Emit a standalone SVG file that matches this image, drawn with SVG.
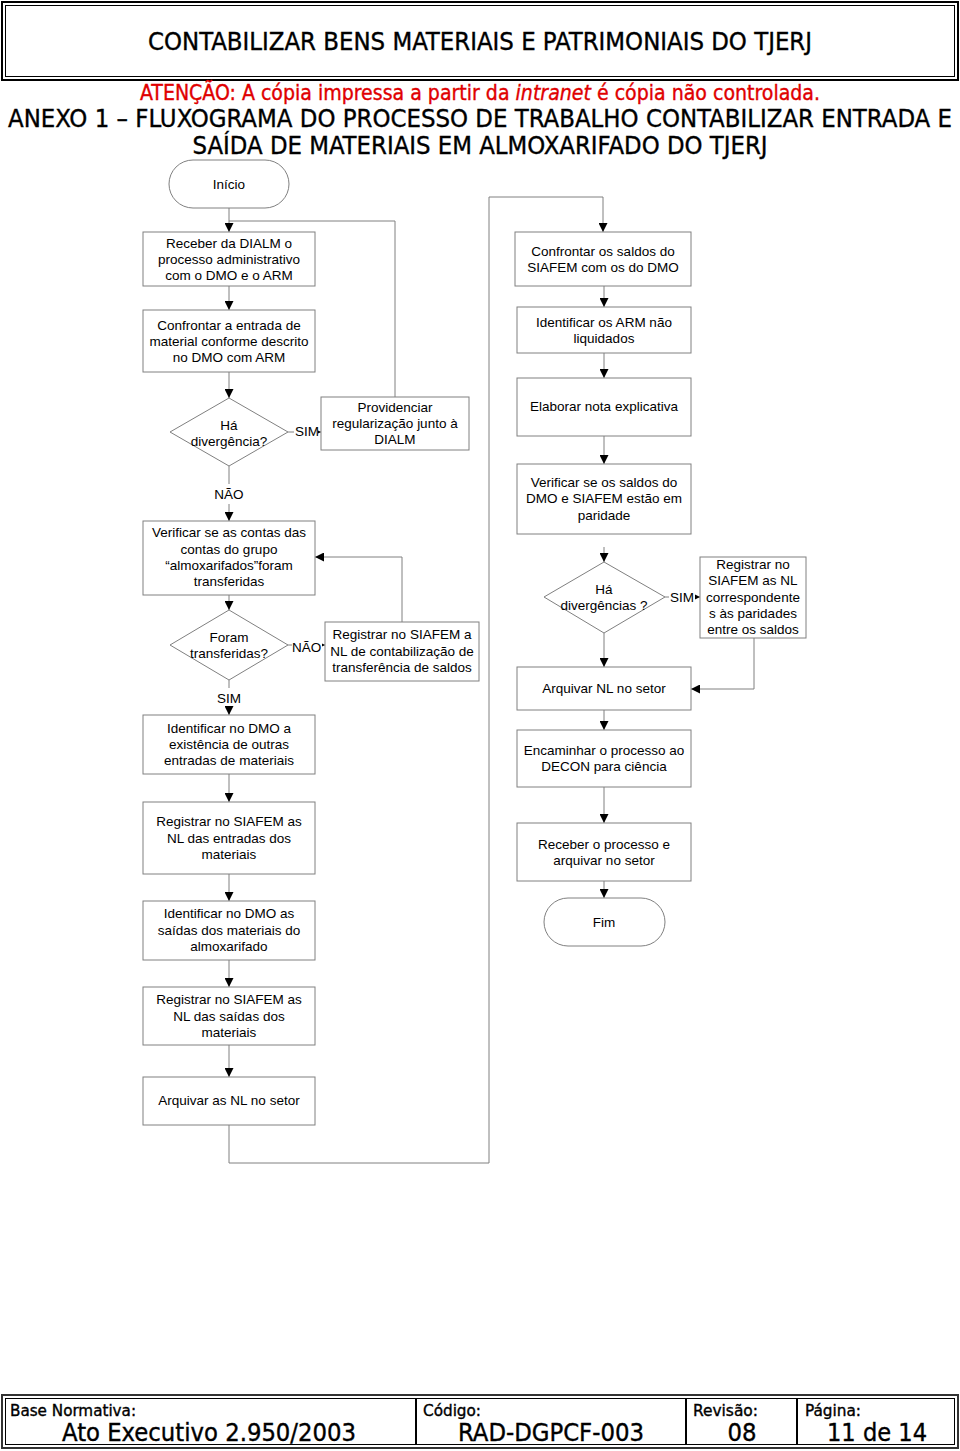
<svg xmlns="http://www.w3.org/2000/svg" width="960" height="1451" viewBox="0 0 960 1451">
<style>
.hd{font-family:"DejaVu Sans Condensed","DejaVu Sans",sans-serif;fill:#000;stroke:#000;stroke-width:0.35}
.t{font-family:"Liberation Sans",Arial,sans-serif;font-size:13.5px;text-anchor:middle;fill:#000}
.b{fill:#fff;stroke:#808080;stroke-width:1}
.c{fill:none;stroke:#808080;stroke-width:1}
.lb{font-family:"Liberation Sans",Arial,sans-serif;font-size:13.5px;fill:#000}
</style>
<defs>
<marker id="ah" viewBox="0 0 10 10" refX="10" refY="5" markerWidth="9" markerHeight="9" markerUnits="userSpaceOnUse" orient="auto">
<path d="M0,0 L10,5 L0,10 z" fill="#000"/>
</marker>
</defs>
<rect width="960" height="1451" fill="#fff"/>
<!-- header -->
<g id="header">
<rect x="2" y="2" width="956" height="78" fill="none" stroke="#000" stroke-width="2"/>
<rect x="5.5" y="5.5" width="949" height="71" fill="none" stroke="#000" stroke-width="1"/>
<text class="hd" x="480" y="50" font-size="24" text-anchor="middle" textLength="664" lengthAdjust="spacingAndGlyphs">CONTABILIZAR BENS MATERIAIS E PATRIMONIAIS DO TJERJ</text>
<text class="hd" x="480" y="100" font-size="21" text-anchor="middle" style="fill:#e00000;stroke:#e00000" textLength="680" lengthAdjust="spacingAndGlyphs">ATENÇÃO: A cópia impressa a partir da <tspan font-style="italic">intranet</tspan> é cópia não controlada.</text>
<text class="hd" x="480" y="127" font-size="25" text-anchor="middle" textLength="944" lengthAdjust="spacingAndGlyphs">ANEXO 1 – FLUXOGRAMA DO PROCESSO DE TRABALHO CONTABILIZAR ENTRADA E</text>
<text class="hd" x="480" y="154" font-size="25" text-anchor="middle" textLength="575" lengthAdjust="spacingAndGlyphs">SAÍDA DE MATERIAIS EM ALMOXARIFADO DO TJERJ</text>
</g>
<!-- connectors -->
<g id="connectors">
<path class="c" d="M229,208 V232" marker-end="url(#ah)"/>
<path class="c" d="M395,397 V221 H229"/>
<path class="c" d="M229,286 V310" marker-end="url(#ah)"/>
<path class="c" d="M229,372 V398" marker-end="url(#ah)"/>
<path class="c" d="M288,432 H321" marker-end="url(#ah)"/>
<path class="c" d="M229,466 V484"/>
<path class="c" d="M229,504 V521" marker-end="url(#ah)"/>
<path class="c" d="M229,595 V610" marker-end="url(#ah)"/>
<path class="c" d="M288,645 H325" marker-end="url(#ah)"/>
<path class="c" d="M402,622 V557 H315" marker-end="url(#ah)"/>
<path class="c" d="M229,680 V688"/>
<path class="c" d="M229,706 V715" marker-end="url(#ah)"/>
<path class="c" d="M229,774 V802" marker-end="url(#ah)"/>
<path class="c" d="M229,874 V901" marker-end="url(#ah)"/>
<path class="c" d="M229,960 V987" marker-end="url(#ah)"/>
<path class="c" d="M229,1045 V1077" marker-end="url(#ah)"/>
<path class="c" d="M229,1125 V1163 H489 V197 H603 V232" marker-end="url(#ah)"/>
<path class="c" d="M604,286 V307" marker-end="url(#ah)"/>
<path class="c" d="M604,353 V378" marker-end="url(#ah)"/>
<path class="c" d="M604,436 V464" marker-end="url(#ah)"/>
<path class="c" d="M604,547 V562" marker-end="url(#ah)"/>
<path class="c" d="M665,597 H700" marker-end="url(#ah)"/>
<path class="c" d="M754,638 V689 H691" marker-end="url(#ah)"/>
<path class="c" d="M604,633 V667" marker-end="url(#ah)"/>
<path class="c" d="M604,710 V730" marker-end="url(#ah)"/>
<path class="c" d="M604,787 V823" marker-end="url(#ah)"/>
<path class="c" d="M604,881 V898" marker-end="url(#ah)"/>
<rect x="294" y="424" width="24" height="14" fill="#fff"/>
<text class="lb" x="295" y="436">SIM</text>
<rect x="214" y="486" width="30" height="16" fill="#fff"/>
<text class="t" x="229" y="499">NÃO</text>
<rect x="292" y="639" width="30" height="14" fill="#fff"/>
<text class="lb" x="292" y="652">NÃO</text>
<rect x="216" y="690" width="26" height="15" fill="#fff"/>
<text class="t" x="229" y="703">SIM</text>
<rect x="669" y="590" width="26" height="14" fill="#fff"/>
<text class="lb" x="670" y="602">SIM</text>
</g>
<!-- left column -->
<g id="inicio"><rect class="b" x="169" y="160" width="120" height="48" rx="24"/><text class="t" x="229" y="189">Início</text></g>
<g id="n1"><rect class="b" x="143" y="232" width="172" height="54"/><text class="t" x="229" y="248">Receber da DIALM o</text><text class="t" x="229" y="264">processo administrativo</text><text class="t" x="229" y="280">com o DMO e o ARM</text></g>
<g id="n2"><rect class="b" x="143" y="310" width="172" height="62"/><text class="t" x="229" y="330">Confrontar a entrada de</text><text class="t" x="229" y="346">material conforme descrito</text><text class="t" x="229" y="362">no DMO com ARM</text></g>
<g id="d1"><polygon class="b" points="229,398 288,432 229,466 170,432"/><text class="t" x="229" y="430">Há</text><text class="t" x="229" y="446">divergência?</text></g>
<g id="n3"><rect class="b" x="321" y="397" width="148" height="53"/><text class="t" x="395" y="412">Providenciar</text><text class="t" x="395" y="428">regularização junto à</text><text class="t" x="395" y="444">DIALM</text></g>
<g id="n4"><rect class="b" x="143" y="521" width="172" height="74"/><text class="t" x="229" y="537">Verificar se as contas das</text><text class="t" x="229" y="554">contas do grupo</text><text class="t" x="229" y="570">“almoxarifados”foram</text><text class="t" x="229" y="586">transferidas</text></g>
<g id="d2"><polygon class="b" points="229,610 288,645 229,680 170,645"/><text class="t" x="229" y="642">Foram</text><text class="t" x="229" y="658">transferidas?</text></g>
<g id="n5"><rect class="b" x="325" y="622" width="154" height="59"/><text class="t" x="402" y="639">Registrar no SIAFEM a</text><text class="t" x="402" y="656">NL de contabilização de</text><text class="t" x="402" y="672">transferência de saldos</text></g>
<g id="n6"><rect class="b" x="143" y="715" width="172" height="59"/><text class="t" x="229" y="733">Identificar no DMO a</text><text class="t" x="229" y="749">existência de outras</text><text class="t" x="229" y="765">entradas de materiais</text></g>
<g id="n7"><rect class="b" x="143" y="802" width="172" height="72"/><text class="t" x="229" y="826">Registrar no SIAFEM as</text><text class="t" x="229" y="843">NL das entradas dos</text><text class="t" x="229" y="859">materiais</text></g>
<g id="n8"><rect class="b" x="143" y="901" width="172" height="59"/><text class="t" x="229" y="918">Identificar no DMO as</text><text class="t" x="229" y="935">saídas dos materiais do</text><text class="t" x="229" y="951">almoxarifado</text></g>
<g id="n9"><rect class="b" x="143" y="987" width="172" height="58"/><text class="t" x="229" y="1004">Registrar no SIAFEM as</text><text class="t" x="229" y="1021">NL das saídas dos</text><text class="t" x="229" y="1037">materiais</text></g>
<g id="n10"><rect class="b" x="143" y="1077" width="172" height="48"/><text class="t" x="229" y="1105">Arquivar as NL no setor</text></g>
<!-- right column -->
<g id="r1"><rect class="b" x="515" y="232" width="176" height="54"/><text class="t" x="603" y="256">Confrontar os saldos do</text><text class="t" x="603" y="272">SIAFEM com os do DMO</text></g>
<g id="r2"><rect class="b" x="517" y="307" width="174" height="46"/><text class="t" x="604" y="327">Identificar os ARM não</text><text class="t" x="604" y="343">liquidados</text></g>
<g id="r3"><rect class="b" x="517" y="378" width="174" height="58"/><text class="t" x="604" y="411">Elaborar nota explicativa</text></g>
<g id="r4"><rect class="b" x="517" y="464" width="174" height="70"/><text class="t" x="604" y="487">Verificar se os saldos   do</text><text class="t" x="604" y="503">DMO e SIAFEM estão em</text><text class="t" x="604" y="520">paridade</text></g>
<g id="d3"><polygon class="b" points="604,562 665,597 604,633 544,597"/><text class="t" x="604" y="594">Há</text><text class="t" x="604" y="610">divergências ?</text></g>
<g id="r5"><rect class="b" x="700" y="557" width="106" height="81"/><text class="t" x="753" y="569">Registrar no</text><text class="t" x="753" y="585">SIAFEM as NL</text><text class="t" x="753" y="602">correspondente</text><text class="t" x="753" y="618">s às paridades</text><text class="t" x="753" y="634">entre os saldos</text></g>
<g id="r6"><rect class="b" x="517" y="667" width="174" height="43"/><text class="t" x="604" y="693">Arquivar NL no setor</text></g>
<g id="r7"><rect class="b" x="517" y="730" width="174" height="57"/><text class="t" x="604" y="755">Encaminhar o processo ao</text><text class="t" x="604" y="771">DECON para ciência</text></g>
<g id="r8"><rect class="b" x="517" y="823" width="174" height="58"/><text class="t" x="604" y="849">Receber o processo e</text><text class="t" x="604" y="865">arquivar no setor</text></g>
<g id="fim"><rect class="b" x="544" y="898" width="121" height="48" rx="24"/><text class="t" x="604" y="927">Fim</text></g>
<!-- footer -->
<g id="footer">
<rect x="2" y="1395" width="956" height="53" fill="none" stroke="#333" stroke-width="2"/>
<rect x="5.5" y="1398.5" width="949" height="46" fill="none" stroke="#000" stroke-width="1"/>
<line x1="416" y1="1398" x2="416" y2="1445" stroke="#000" stroke-width="2"/>
<line x1="686" y1="1398" x2="686" y2="1445" stroke="#000" stroke-width="2"/>
<line x1="797" y1="1398" x2="797" y2="1445" stroke="#000" stroke-width="2"/>
<text class="hd" x="10" y="1416" font-size="16" textLength="126" lengthAdjust="spacingAndGlyphs">Base Normativa:</text>
<text class="hd" x="209" y="1441" font-size="24" text-anchor="middle" textLength="294" lengthAdjust="spacingAndGlyphs">Ato Executivo 2.950/2003</text>
<text class="hd" x="423" y="1416" font-size="16" textLength="58" lengthAdjust="spacingAndGlyphs">Código:</text>
<text class="hd" x="551" y="1441" font-size="24" text-anchor="middle" textLength="186" lengthAdjust="spacingAndGlyphs">RAD-DGPCF-003</text>
<text class="hd" x="693" y="1416" font-size="16" textLength="65" lengthAdjust="spacingAndGlyphs">Revisão:</text>
<text class="hd" x="742" y="1441" font-size="24" text-anchor="middle" textLength="29" lengthAdjust="spacingAndGlyphs">08</text>
<text class="hd" x="805" y="1416" font-size="16" textLength="56" lengthAdjust="spacingAndGlyphs">Página:</text>
<text class="hd" x="877" y="1441" font-size="24" text-anchor="middle" textLength="100" lengthAdjust="spacingAndGlyphs">11 de 14</text>
</g>
</svg>
